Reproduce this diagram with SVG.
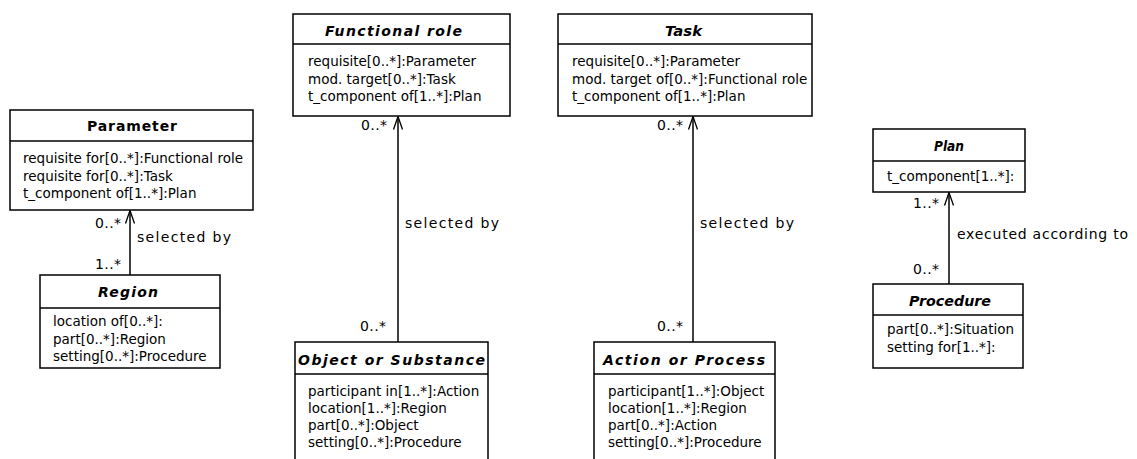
<svg xmlns="http://www.w3.org/2000/svg" width="1137" height="459" viewBox="0 0 1137 459">
<style>
.box{fill:#fff;stroke:#000;stroke-width:1.5}
.sep{stroke:#000;stroke-width:1.5}
.t{font-family:"DejaVu Sans","Liberation Sans",sans-serif;font-size:14px;font-weight:bold;font-style:italic;fill:#000}
.tn{font-style:normal}
.a{font-family:"DejaVu Sans","Liberation Sans",sans-serif;font-size:13.5px;fill:#000}
.l{font-family:"DejaVu Sans","Liberation Sans",sans-serif;font-size:14px;fill:#000}
.c{stroke:#000;stroke-width:1.5;fill:none}
</style>
<defs>
<marker id="open" markerUnits="userSpaceOnUse" markerWidth="20" markerHeight="20" refX="0" refY="0" orient="auto" overflow="visible">
<path d="M-13,-4.5 L0,0 L-13,4.5" fill="none" stroke="#000" stroke-width="1.3"/>
</marker>
</defs>

<g id="connectors">
<line class="c" x1="130" y1="275" x2="130" y2="210.5" marker-end="url(#open)"/>
<text class="l" x="95" y="228" textLength="26" lengthAdjust="spacing">0..*</text>
<text class="l" x="137" y="242" textLength="94" lengthAdjust="spacing">selected by</text>
<text class="l" x="95" y="269" textLength="26" lengthAdjust="spacing">1..*</text>

<line class="c" x1="398" y1="342" x2="398" y2="116.5" marker-end="url(#open)"/>
<text class="l" x="361" y="130" textLength="26" lengthAdjust="spacing">0..*</text>
<text class="l" x="405" y="228" textLength="94" lengthAdjust="spacing">selected by</text>
<text class="l" x="360" y="331" textLength="26" lengthAdjust="spacing">0..*</text>

<line class="c" x1="693" y1="342" x2="693" y2="116.5" marker-end="url(#open)"/>
<text class="l" x="657" y="130" textLength="26" lengthAdjust="spacing">0..*</text>
<text class="l" x="700" y="228" textLength="94" lengthAdjust="spacing">selected by</text>
<text class="l" x="657" y="331" textLength="26" lengthAdjust="spacing">0..*</text>

<line class="c" x1="949" y1="284" x2="949" y2="192.5" marker-end="url(#open)"/>
<text class="l" x="913" y="208" textLength="26" lengthAdjust="spacing">1..*</text>
<text class="l" x="957" y="239" textLength="171" lengthAdjust="spacing">executed according to</text>
<text class="l" x="913" y="274" textLength="26" lengthAdjust="spacing">0..*</text>
</g>

<g id="parameter">
<rect class="box" x="10" y="110" width="243" height="100"/>
<line class="sep" x1="10" y1="141" x2="253" y2="141"/>
<text class="t tn" x="87" y="131" textLength="90" lengthAdjust="spacing">Parameter</text>
<text class="a" x="23" y="163">requisite for[0..*]:Functional role</text>
<text class="a" x="23" y="180.5">requisite for[0..*]:Task</text>
<text class="a" x="23" y="198">t_component of[1..*]:Plan</text>
</g>

<g id="region">
<rect class="box" x="40" y="275" width="180" height="93"/>
<line class="sep" x1="40" y1="308" x2="220" y2="308"/>
<text class="t" x="98" y="297" textLength="60" lengthAdjust="spacing">Region</text>
<text class="a" x="53" y="326">location of[0..*]:</text>
<text class="a" x="53" y="344">part[0..*]:Region</text>
<text class="a" x="53" y="361">setting[0..*]:Procedure</text>
</g>

<g id="functional-role">
<rect class="box" x="293" y="14" width="217" height="102"/>
<line class="sep" x1="293" y1="44" x2="510" y2="44"/>
<text class="t" x="325" y="36" textLength="137" lengthAdjust="spacing">Functional role</text>
<text class="a" x="308" y="66">requisite[0..*]:Parameter</text>
<text class="a" x="308" y="83.5">mod. target[0..*]:Task</text>
<text class="a" x="308" y="101">t_component of[1..*]:Plan</text>
</g>

<g id="task">
<rect class="box" x="558" y="14" width="254" height="102"/>
<line class="sep" x1="558" y1="44" x2="812" y2="44"/>
<text class="t" x="665" y="36" textLength="37" lengthAdjust="spacingAndGlyphs">Task</text>
<text class="a" x="572" y="66">requisite[0..*]:Parameter</text>
<text class="a" x="572" y="83.5">mod. target of[0..*]:Functional role</text>
<text class="a" x="572" y="101">t_component of[1..*]:Plan</text>
</g>

<g id="object-or-substance">
<rect class="box" x="295" y="342" width="193" height="130"/>
<line class="sep" x1="295" y1="374" x2="488" y2="374"/>
<text class="t" x="298" y="365" textLength="187" lengthAdjust="spacing">Object or Substance</text>
<text class="a" x="308" y="396">participant in[1..*]:Action</text>
<text class="a" x="308" y="413">location[1..*]:Region</text>
<text class="a" x="308" y="430">part[0..*]:Object</text>
<text class="a" x="308" y="447">setting[0..*]:Procedure</text>
</g>

<g id="action-or-process">
<rect class="box" x="594" y="342" width="181" height="130"/>
<line class="sep" x1="594" y1="374" x2="775" y2="374"/>
<text class="t" x="603" y="365" textLength="162" lengthAdjust="spacing">Action or Process</text>
<text class="a" x="608" y="396">participant[1..*]:Object</text>
<text class="a" x="608" y="413">location[1..*]:Region</text>
<text class="a" x="608" y="430">part[0..*]:Action</text>
<text class="a" x="608" y="447">setting[0..*]:Procedure</text>
</g>

<g id="plan">
<rect class="box" x="873" y="129" width="152" height="63"/>
<line class="sep" x1="873" y1="161" x2="1025" y2="161"/>
<text class="t" x="934" y="151" textLength="30" lengthAdjust="spacingAndGlyphs">Plan</text>
<text class="a" x="887" y="181">t_component[1..*]:</text>
</g>

<g id="procedure">
<rect class="box" x="873" y="284" width="150" height="84"/>
<line class="sep" x1="873" y1="315" x2="1023" y2="315"/>
<text class="t" x="909" y="306" textLength="82" lengthAdjust="spacingAndGlyphs">Procedure</text>
<text class="a" x="887" y="334">part[0..*]:Situation</text>
<text class="a" x="887" y="352">setting for[1..*]:</text>
</g>
</svg>
